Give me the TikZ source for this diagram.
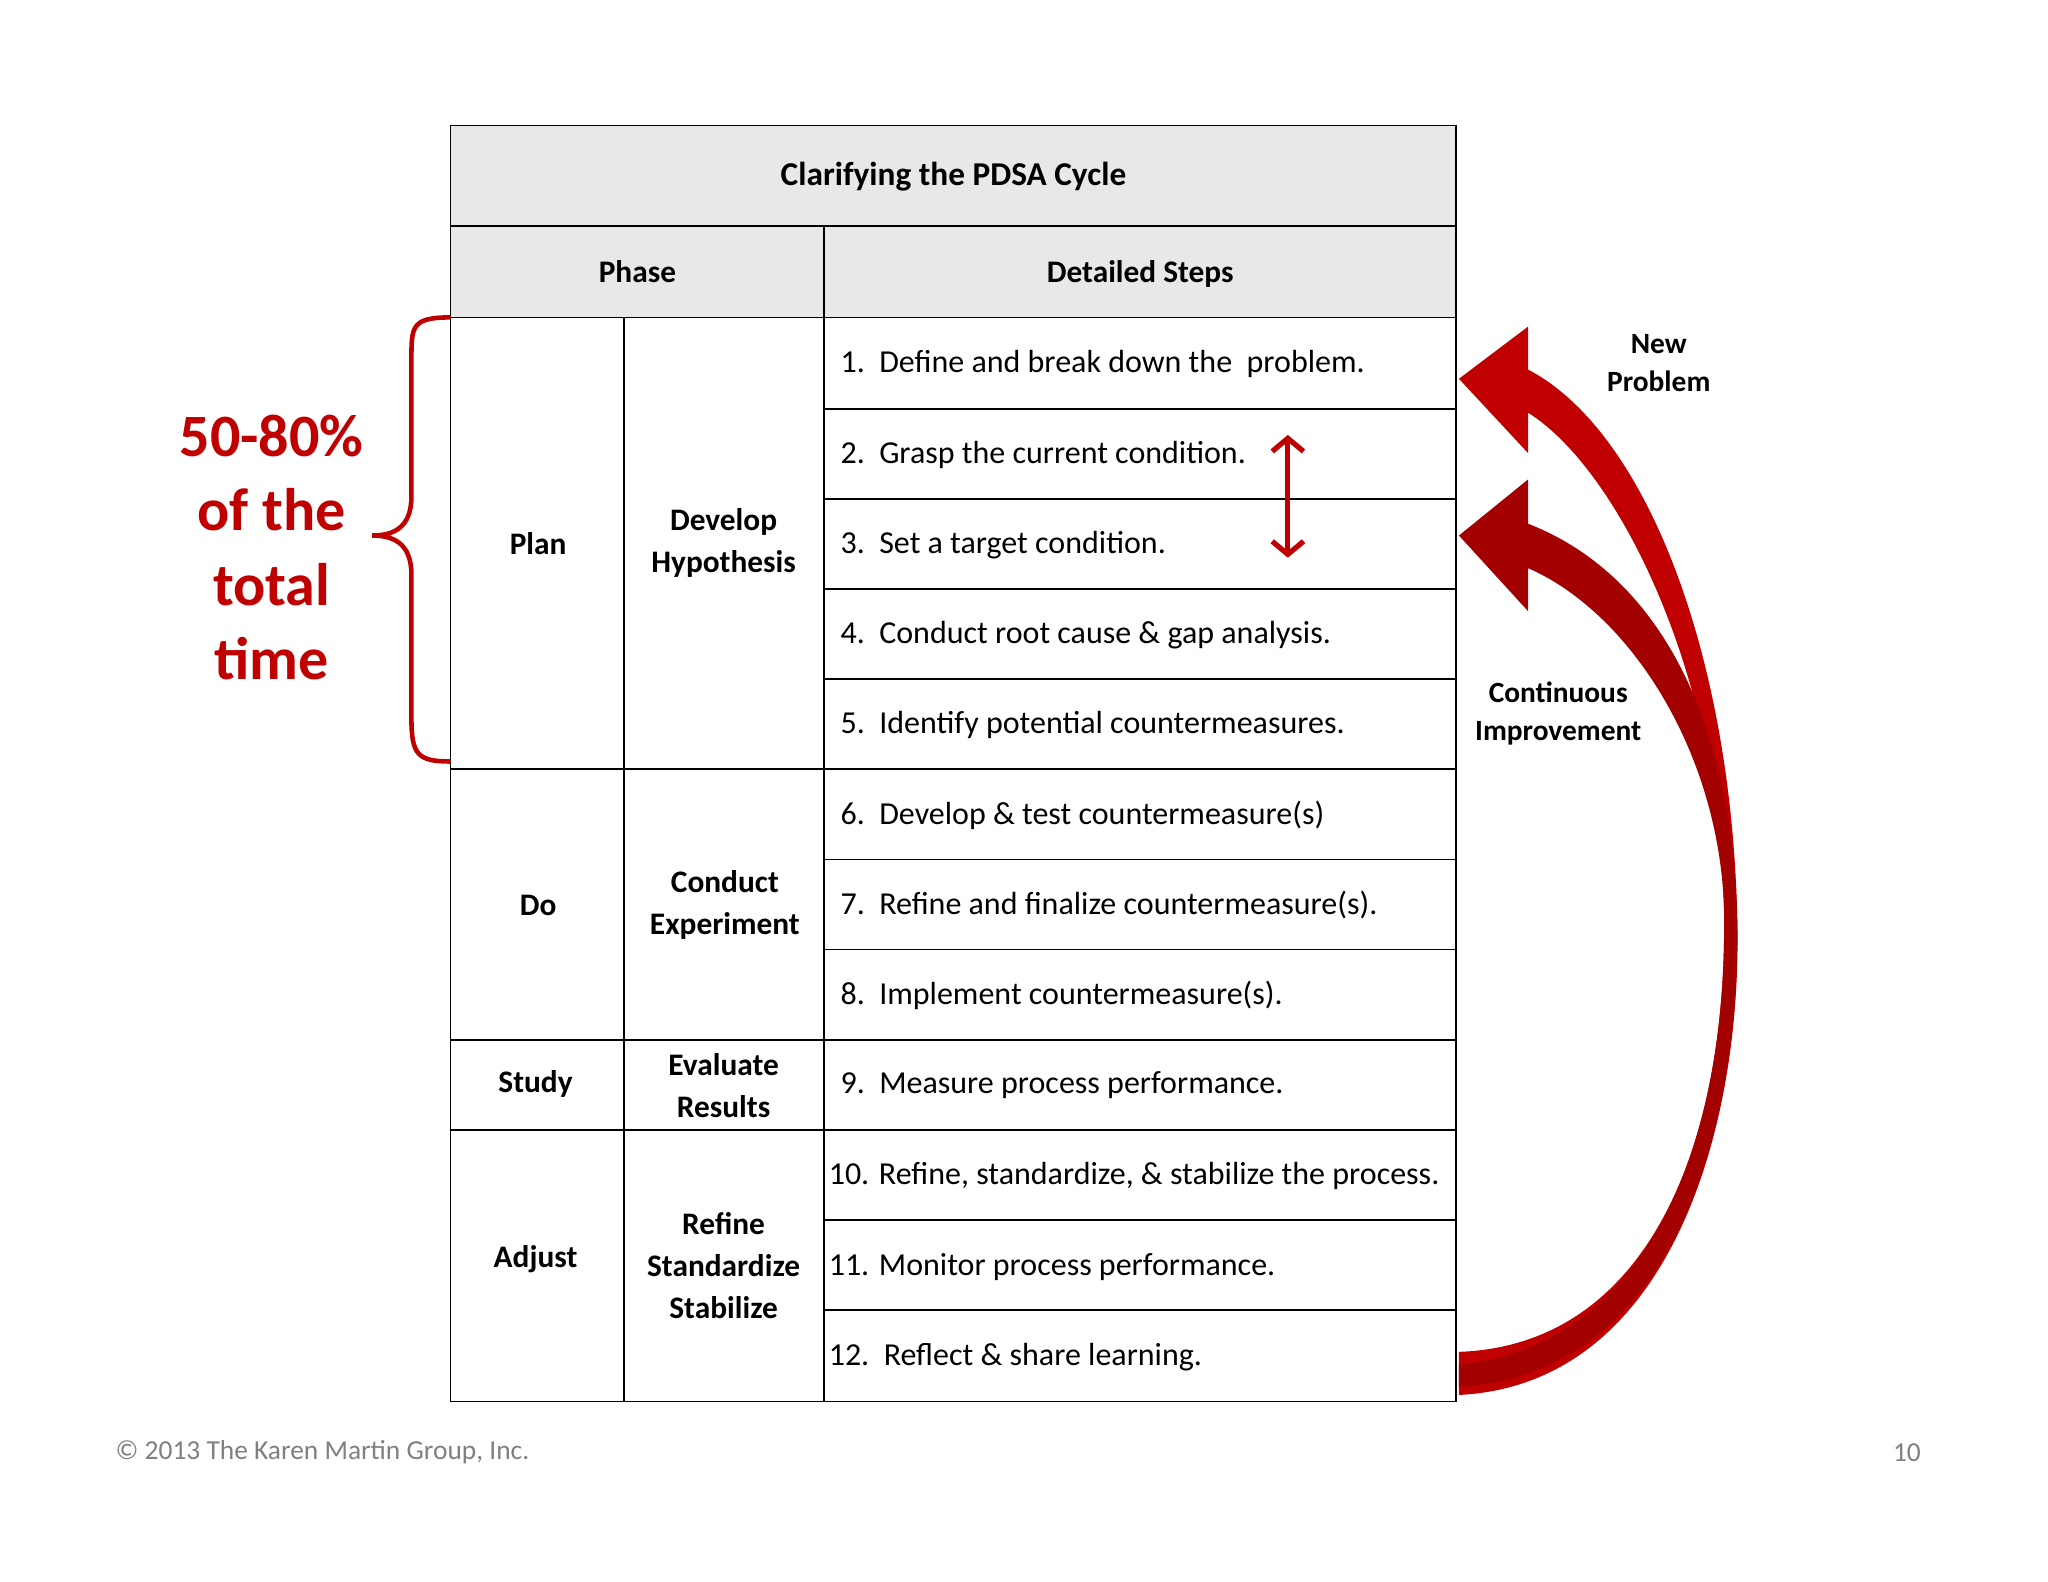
\documentclass[tikz,border=0pt]{standalone}
\usepackage{fontspec}
\usetikzlibrary{arrows.meta}
\setmainfont{Carlito}
\definecolor{kred}{HTML}{C00000}
\definecolor{hdr}{HTML}{E8E8E8}
\begin{document}
\begin{tikzpicture}[x=1pt,y=-1pt,
  cell/.style={draw=black,line width=1.3pt},
  stept/.style={anchor=west,font=\fontsize{24.5}{28}\selectfont},
  bt/.style={font=\bfseries\fontsize{24}{32}\selectfont,align=center},
  lbl/.style={font=\bfseries\fontsize{22.5}{29}\selectfont,align=center}]
\useasboundingbox (0,0) rectangle (1568,1211);
\fill[white] (0,0) rectangle (1568,1211);
% header fills
\filldraw[cell,fill=hdr] (345,96) rectangle (1115,173);
\filldraw[cell,fill=hdr] (345,173) rectangle (631,243);
\filldraw[cell,fill=hdr] (631,173) rectangle (1115,243);
\node[bt,font=\bfseries\fontsize{25.5}{32}\selectfont] (title) at (730,135) {Clarifying the PDSA Cycle};
\node[bt] (phase) at (488,208) {Phase};
\node[bt] (det) at (873,210) {Detailed Steps};
% phase cells
\foreach \t/\b in {243/589,589/796,796/865,865/1073}{
  \draw[cell] (345,\t) rectangle (478,\b);
  \draw[cell] (478,\t) rectangle (631,\b);}
\node[bt] (plan) at (412,416) {Plan};
\node[bt] (hyp) at (554,416) {Develop\\Hypothesis};
\node[bt] (do) at (412,693) {Do};
\node[bt] (exp) at (555,693) {Conduct\\Experiment};
\node[bt] (study) at (410,830) {Study};
\node[bt] (eval) at (554,831) {Evaluate\\Results};
\node[bt] (adj) at (410,964) {Adjust};
\node[bt] (ref) at (554,969) {Refine\\Standardize\\Stabilize};
% step rows
\foreach \t/\b in {243/313,313/382,382/451,451/520,520/589,589/658,658/727,727/796,796/865,865/934,934/1003,1003/1073}
  \draw[cell] (631,\t) rectangle (1115,\b);
\node[stept] (s1) at (640,279) {1.\ \ Define and break down the\ \ problem.};
\node[stept] (s2) at (640,348) {2.\ \ Grasp the current condition.};
\node[stept] (s3) at (640,417) {3.\ \ Set a target condition.};
\node[stept] (s4) at (640,486) {4.\ \ Conduct root cause \& gap analysis.};
\node[stept] (s5) at (640,555) {5.\ \ Identify potential countermeasures.};
\node[stept] (s6) at (640,624) {6.\ \ Develop \& test countermeasure(s)};
\node[stept] (s7) at (640,693) {7.\ \ Refine and finalize countermeasure(s).};
\node[stept] (s8) at (640,762) {8.\ \ Implement countermeasure(s).};
\node[stept] (s9) at (640,831) {9.\ \ Measure process performance.};
\node[stept] (s10) at (631,900) {10. Refine, standardize, \& stabilize the process.};
\node[stept] (s11) at (631,970) {11. Monitor process performance.};
\node[stept] (s12) at (631,1039) {12.\ \ Reflect \& share learning.};
% small red double arrow
\coordinate (ua) at (986,333);
\coordinate (da) at (986,427);
\draw[kred,line width=4pt,{Straight Barb[length=10pt,width=24pt]}-{Straight Barb[length=10pt,width=24pt]}] (ua) -- (da);
% brace
\draw[kred,line width=3.5pt] (345,243) .. controls (315,243) and (315,250) .. (315,275) -- (315,380) .. controls (315,405) and (300,410) .. (285,410) .. controls (300,410) and (315,415) .. (315,440) -- (315,550) .. controls (315,578) and (320,583) .. (345,583);
\node[font=\bfseries\fontsize{46}{57}\selectfont,text=kred,align=center] (pct) at (208,419) {50-80\%\\of the\\total\\time};
% big arrows
\fill[kred] (1117,1068) .. controls (1280,1060) and (1335,860) .. (1330,700)
  .. controls (1325,500) and (1260,330) .. (1170,283) -- (1170,250) -- (1117,290) -- (1170,347) -- (1170,316)
  .. controls (1240,360) and (1318,520) .. (1320,700)
  .. controls (1322,880) and (1260,1030) .. (1117,1035) -- cycle;
\fill[kred!85!black] (1117,1062) .. controls (1285,1050) and (1333,860) .. (1330,700)
  .. controls (1325,550) and (1270,440) .. (1170,401) -- (1170,367) -- (1117,410) -- (1170,468) -- (1170,435)
  .. controls (1250,470) and (1318,580) .. (1320,700)
  .. controls (1322,880) and (1260,1030) .. (1117,1045) -- cycle;
\node[lbl] (np) at (1270,278) {New\\Problem};
\node[lbl] (ci) at (1193,546) {Continuous\\Improvement};
% footer
\node[anchor=west,text=gray,font=\fontsize{21}{24}\selectfont] (copy) at (85,1112) {© 2013 The Karen Martin Group, Inc.};
\node[text=gray,font=\fontsize{21}{24}\selectfont] (pg) at (1460,1112) {10};
\end{tikzpicture}
\end{document}
